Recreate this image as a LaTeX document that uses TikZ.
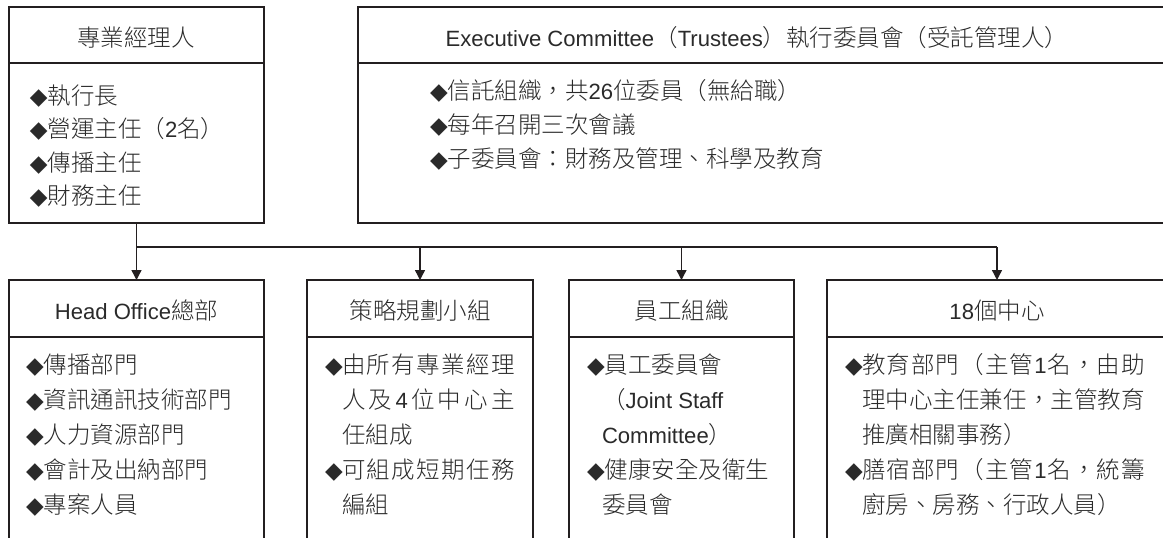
\documentclass[tikz,border=0pt]{standalone}
\usepackage{fontspec}
\setmainfont{Liberation Sans}
\newfontfamily\cjkf{Noto Sans CJK TC Light}
\newfontfamily\latf[Scale=0.94]{Liberation Sans}
\newfontfamily\dvf{DejaVu Sans}
\usetikzlibrary{arrows.meta}
\definecolor{ink}{HTML}{231F20}
\definecolor{txt}{HTML}{2A2A2A}
\newcommand\en[1]{{\latf #1}}
\newcommand\dia{{\dvf\fontsize{23}{23}\selectfont ◆}}
\newcommand\jl[2]{\hbox to #1pt{#2}}
\begin{document}
\begin{tikzpicture}[x=1pt,y=-1pt,
  box/.style={draw=ink,line width=1.8pt,rectangle,inner sep=0pt,outer sep=0pt,anchor=north west},
  div/.style={draw=ink,line width=1.8pt},
  conn/.style={draw=ink,line width=1.4pt},
  arr/.style={conn,-{Triangle[length=10pt,width=10pt]}},
  tx/.style={text=txt,font=\cjkf\fontsize{23.5}{23.5}\selectfont,inner sep=0pt,outer sep=0pt,anchor=base west},
  hd/.style={tx,anchor=base}]
\useasboundingbox (0,0) rectangle (1163,538);
\clip (0,0) rectangle (1163,538);
% top boxes
\node[box,minimum width=255pt,minimum height=216pt] (pm) at (9,7) {};
\node[box,minimum width=808pt,minimum height=216pt] (ex) at (358,7) {};
\draw[div] (9,63) coordinate (pmdl) -- (pmdl -| pm.east);
\draw[div] (358,63) coordinate (exdl) -- (exdl -| ex.east);
% bottom boxes
\node[box,minimum width=255pt,minimum height=262pt] (ho) at (9,280) {};
\node[box,minimum width=226pt,minimum height=262pt] (sp) at (307,280) {};
\node[box,minimum width=225pt,minimum height=262pt] (st) at (569,280) {};
\node[box,minimum width=340pt,minimum height=262pt] (cc) at (827,280) {};
\coordinate (bdl) at (0,337);
\draw[div] (ho.west |- bdl) -- (ho.east |- bdl);
\draw[div] (sp.west |- bdl) -- (sp.east |- bdl);
\draw[div] (st.west |- bdl) -- (st.east |- bdl);
\draw[div] (cc.west |- bdl) -- (cc.east |- bdl);
% connectors
\coordinate (lvl) at (0,247);
\draw[conn] (pm.south) -- (pm.south |- lvl) -- (cc.north |- lvl);
\draw[arr] (pm.south |- lvl) -- (ho.north);
\draw[arr] (sp.north |- lvl) -- (sp.north);
\draw[arr] (st.north |- lvl) -- (st.north);
\draw[arr] (cc.north |- lvl) -- (cc.north);
% headers
\node[hd] (pmh) at (136,46) {專業經理人};
\node[hd] (exh) at (757,46) {\en{Executive Committee}（\en{Trustees}）執行委員會（受託管理人）};
\node[hd] (hoh) at (136.5,319) {\en{Head Office}總部};
\node[hd] (sph) at (420,319) {策略規劃小組};
\node[hd] (sth) at (681.5,319) {員工組織};
\node[hd] (cch) at (997,319) {\en{18}個中心};
% professional managers
\node[tx] (pm1) at (30,104) {\dia 執行長};
\node[tx] (pm2) at (30,137.5) {\dia 營運主任（\en{2}名）};
\node[tx] (pm3) at (30,171) {\dia 傳播主任};
\node[tx] (pm4) at (30,204.5) {\dia 財務主任};
% executive committee
\node[tx] (ex1) at (430,99) {\dia 信託組織，共\en{26}位委員（無給職）};
\node[tx] (ex2) at (430,133) {\dia 每年召開三次會議};
\node[tx] (ex3) at (430,167) {\dia 子委員會：財務及管理、科學及教育};
% head office
\node[tx] (ho1) at (26,373.5) {\dia 傳播部門};
\node[tx] (ho2) at (26,408.5) {\dia 資訊通訊技術部門};
\node[tx] (ho3) at (26,443.5) {\dia 人力資源部門};
\node[tx] (ho4) at (26,478.5) {\dia 會計及出納部門};
\node[tx] (ho5) at (26,513.5) {\dia 專案人員};
% strategy group
\node[tx] (sp1) at (325,373.5) {\dia};
\node[tx] (sp1t) at (342,373.5) {\jl{173}{由\hfil 所\hfil 有\hfil 專\hfil 業\hfil 經\hfil 理}};
\node[tx] (sp2) at (342,408.5) {\jl{173}{人\hfil 及\hfil \en{4}\hfil 位\hfil 中\hfil 心\hfil 主}};
\node[tx] (sp3) at (342,443.5) {任組成};
\node[tx] (sp4) at (325,478.5) {\dia};
\node[tx] (sp4t) at (342,478.5) {\jl{173}{可\hfil 組\hfil 成\hfil 短\hfil 期\hfil 任\hfil 務}};
\node[tx] (sp5) at (342,513.5) {編組};
% staff organisation
\node[tx] (st1) at (587,373.5) {\dia 員工委員會};
\node[tx] (st2) at (602,408.5) {（\en{Joint Staff}};
\node[tx] (st3) at (602,443.5) {\en{Committee}）};
\node[tx] (st4) at (587,478.5) {\dia 健康安全及衛生};
\node[tx] (st5) at (602,513.5) {委員會};
% 18 centres
\node[tx] (cc1) at (845,373.5) {\dia};
\node[tx] (cc1t) at (862,373.5) {\jl{283}{教\hfil 育\hfil 部\hfil 門\hfil （\hfil 主\hfil 管\hfil \en{1}\hfil 名\hfil ，\hfil 由\hfil 助}};
\node[tx] (cc2) at (862,408.5) {\jl{283}{理\hfil 中\hfil 心\hfil 主\hfil 任\hfil 兼\hfil 任\hfil ，\hfil 主\hfil 管\hfil 教\hfil 育}};
\node[tx] (cc3) at (862,443.5) {推廣相關事務）};
\node[tx] (cc4) at (845,478.5) {\dia};
\node[tx] (cc4t) at (862,478.5) {\jl{283}{膳\hfil 宿\hfil 部\hfil 門\hfil （\hfil 主\hfil 管\hfil \en{1}\hfil 名\hfil ，\hfil 統\hfil 籌}};
\node[tx] (cc5) at (862,513.5) {廚房、房務、行政人員）};
\end{tikzpicture}
\end{document}
